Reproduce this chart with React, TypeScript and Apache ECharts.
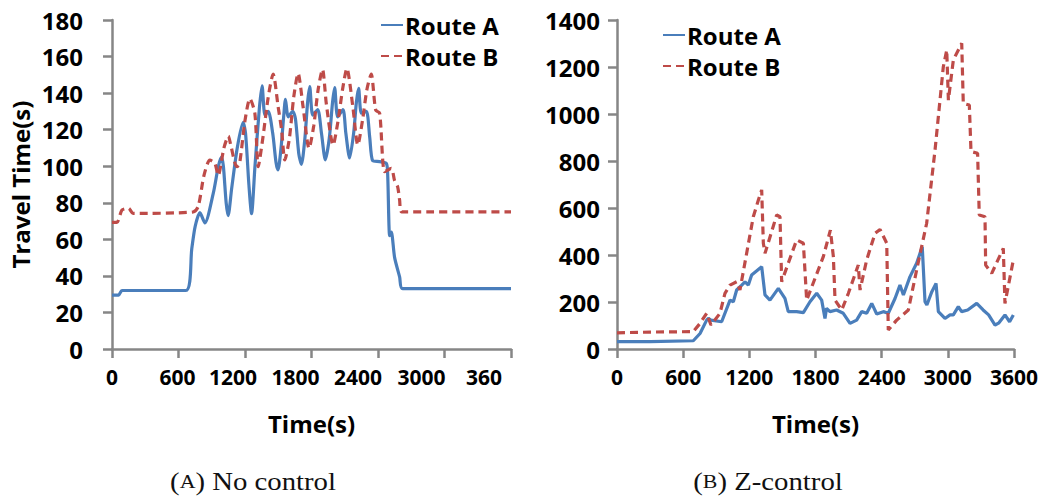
import React, { useEffect, useRef } from "react";
import * as echarts from "echarts";

// Time ticks shared by both panels (seconds)
const timeTicks = [0, 600, 1200, 1800, 2400, 3000, 3600];

// Panel (A) No control: [time (s), travel time (s)]
const noControlRouteA: number[][] = [
  [0, 29.5], [60, 29.5], [90, 32], [667, 32], [720, 55], [750, 67], [793, 74.6], [838, 69],
  [913, 85], [960, 100], [988, 105], [1005, 100], [1030, 80], [1048, 73], [1080, 88],
  [1130, 110], [1183, 124], [1205, 118], [1235, 90], [1259, 74], [1290, 100], [1330, 132],
  [1354, 144], [1380, 128], [1410, 130], [1450, 118], [1480, 102], [1498, 98], [1525, 110],
  [1550, 128], [1565, 136.6], [1590, 127], [1630, 130], [1655, 126], [1685, 107], [1709, 101],
  [1740, 115], [1765, 135], [1784, 143.5], [1811, 128], [1856, 131], [1890, 118], [1925, 103.5],
  [1960, 115], [1990, 135], [2009, 143], [2036, 127], [2084, 131], [2110, 118], [2144, 104.5],
  [2180, 118], [2205, 135], [2225, 142.6], [2250, 129], [2295, 130], [2325, 116], [2352, 103],
  [2415, 102.5], [2475, 101.5], [2487, 96], [2505, 62], [2520, 64], [2550, 50], [2595, 39.5],
  [2622, 33], [3600, 33],
];
const noControlRouteB: number[][] = [
  [0, 69.3], [45, 69.3], [90, 76], [150, 77], [190, 74.2], [733, 75], [778, 78], [830, 95],
  [883, 103.4], [928, 101.6], [958, 95], [1010, 110], [1050, 116.5], [1070, 112], [1126, 99.7],
  [1150, 101], [1200, 125], [1244, 137], [1289, 129], [1319, 99.7], [1360, 115], [1410, 138],
  [1454, 150.4], [1499, 132.5], [1530, 120], [1559, 103.4], [1600, 115], [1640, 138],
  [1679, 150.8], [1724, 132.5], [1778, 109.8], [1820, 122], [1860, 142], [1899, 153],
  [1935, 133.5], [1995, 111.6], [2040, 125], [2080, 142], [2119, 153.5], [2173, 132.5],
  [2218, 111.6], [2260, 125], [2300, 142], [2339, 150.4], [2379, 130.7], [2415, 129],
  [2460, 97], [2520, 98.8], [2550, 92], [2577, 88.8], [2595, 81.5], [2613, 75], [3600, 75],
];

// Panel (B) Z-control: [time (s), travel time (s)]
const zControlRouteA: number[][] = [
  [0, 31], [300, 31], [692, 35], [753, 66], [813, 123], [828, 130], [852, 123], [949, 116],
  [1025, 208], [1055, 201], [1085, 251], [1131, 272], [1161, 286], [1191, 272], [1221, 315],
  [1312, 350], [1342, 230], [1387, 208], [1463, 258], [1523, 215], [1553, 159], [1629, 159],
  [1690, 155], [1750, 201], [1811, 237], [1856, 208], [1886, 130], [1900, 173], [1931, 159],
  [1991, 166], [2052, 152], [2113, 109], [2173, 123], [2219, 159], [2264, 152], [2310, 194],
  [2355, 149], [2415, 159], [2460, 152], [2521, 215], [2566, 272], [2597, 230], [2657, 308],
  [2717, 365], [2768, 435], [2793, 201], [2810, 187], [2855, 244], [2893, 279], [2914, 159],
  [2974, 130], [3020, 145], [3050, 145], [3095, 180], [3125, 159], [3180, 166], [3262, 194],
  [3320, 166], [3370, 145], [3428, 102], [3460, 110], [3518, 145], [3560, 116], [3594, 145],
];
const zControlRouteB: number[][] = [
  [0, 69], [300, 72], [692, 74], [753, 109], [813, 152], [852, 102], [934, 152], [979, 237],
  [1025, 272], [1085, 286], [1115, 251], [1236, 563], [1282, 634], [1312, 677], [1327, 450],
  [1342, 407], [1402, 499], [1448, 570], [1478, 563], [1493, 286], [1553, 365], [1629, 464],
  [1690, 450], [1720, 208], [1871, 393], [1935, 506], [1962, 393], [1977, 208], [2038, 166],
  [2098, 237], [2188, 357], [2204, 251], [2264, 379], [2340, 492], [2385, 509], [2446, 450],
  [2460, 81], [2536, 123], [2642, 166], [2717, 336], [2808, 535], [2884, 847], [2959, 1201],
  [2990, 1272], [3005, 1059], [3050, 1230], [3126, 1301], [3140, 1045], [3195, 1038],
  [3210, 840], [3270, 833], [3285, 570], [3337, 563], [3343, 357], [3398, 322], [3503, 428],
  [3518, 194], [3594, 379],
];

const seriesNames = ["Route A", "Route B"];
const captions = ["(A) No control", "(B) Z-control"];

const BLUE = "#4a7ebb";
const RED = "#be4b48";
const AXIS = "#868686";
const FONT = "Open Sans";

// horizontal shift (px) of each time label relative to its tick
const leftLabelShift = [0, -1, -12, -16, -20, -23, -21];
const rightLabelShift = [0, 0, 0, 0, 0, 0, 0];

function timeAxis(gridIndex: number, shifts: number[]) {
  const rich: Record<string, any> = {};
  shifts.forEach((s, i) => {
    rich["s" + i] = {
      fontFamily: FONT,
      fontWeight: "bold",
      fontSize: 21,
      color: "#000",
      padding: [0, Math.max(0, -2 * s), 0, Math.max(0, 2 * s)],
    };
  });
  return {
    type: "value",
    gridIndex,
    min: 0,
    max: 3600,
    interval: 600,
    name: "Time(s)",
    nameLocation: "middle",
    nameGap: 62,
    nameTextStyle: { fontFamily: FONT, fontWeight: "bold", fontSize: 24, color: "#000" },
    axisLine: { show: true, lineStyle: { color: AXIS, width: 2.5 } },
    axisTick: { show: true, length: 9, lineStyle: { color: AXIS, width: 2.5 } },
    splitLine: { show: false },
    axisLabel: {
      margin: 17,
      showMaxLabel: true,
      showMinLabel: true,
      formatter: (v: number) => {
        const i = timeTicks.indexOf(v);
        return "{s" + i + "|" + v + "}";
      },
      rich,
    },
  };
}

function valueAxis(gridIndex: number, max: number, interval: number, margin: number, name?: string) {
  return {
    type: "value",
    gridIndex,
    min: 0,
    max,
    interval,
    name: name || "",
    nameLocation: "middle",
    nameGap: 80,
    nameTextStyle: { fontFamily: FONT, fontWeight: "bold", fontSize: 24, color: "#000" },
    axisLine: { show: true, lineStyle: { color: AXIS, width: 2.5 } },
    axisTick: { show: true, length: 9, lineStyle: { color: AXIS, width: 2.5 } },
    splitLine: { show: false },
    axisLabel: {
      margin,
      fontFamily: FONT,
      fontWeight: "bold",
      fontSize: 24,
      color: "#000",
      formatter: (v: number) => String(v),
    },
  };
}

function lineSeries(name: string, data: number[][], idx: number, dashed: boolean, smooth: number) {
  return {
    type: "line",
    name,
    data,
    xAxisIndex: idx,
    yAxisIndex: idx,
    symbol: "none",
    showSymbol: false,
    smooth,
    lineStyle: {
      color: dashed ? RED : BLUE,
      width: 3.2,
      type: dashed ? [8, 5] : "solid",
    },
    itemStyle: { color: dashed ? RED : BLUE },
  };
}

function legend(left: number, top: number) {
  return {
    orient: "vertical",
    left,
    top,
    padding: 0,
    itemWidth: 22,
    itemHeight: 12,
    itemGap: 7,
    data: seriesNames,
    // only the line sample is shown next to each name
    itemStyle: { color: "rgba(0,0,0,0)", borderWidth: 0, opacity: 0 },
    textStyle: {
      fontFamily: FONT,
      fontWeight: "bold",
      fontSize: 24,
      lineHeight: 24,
      color: "#000",
      padding: [0, 0, 0, -3],
    },
  };
}

function caption(text: string, x: number) {
  const m = text.match(/^\((.)\)(.*)$/);
  const letter = m ? m[1] : "";
  const rest = m ? m[2] : text;
  return {
    type: "text",
    x,
    y: 482,
    z: 100,
    scaleX: 1.15,
    style: {
      text: "{p|(}{s|" + letter + "}{p|)" + rest + "}",
      align: "center",
      verticalAlign: "middle",
      rich: {
        p: { fontFamily: "Liberation Serif", fontSize: 25, fill: "#111" },
        s: { fontFamily: "Liberation Serif", fontSize: 19, fill: "#111" },
      },
    },
  };
}

export default function App() {
  const ref = useRef<HTMLDivElement>(null);

  useEffect(() => {
    if (!ref.current) return;
    const chart = echarts.init(ref.current, undefined, { renderer: "svg" });
    chart.setOption({
      animation: false,
      backgroundColor: "#fff",
      grid: [
        { left: 112, top: 20, width: 399, height: 329 },
        { left: 617, top: 20, width: 397, height: 329 },
      ],
      xAxis: [timeAxis(0, leftLabelShift), timeAxis(1, rightLabelShift)],
      yAxis: [
        valueAxis(0, 180, 20, 29, "Travel Time(s)"),
        valueAxis(1, 1400, 200, 17),
      ],
      legend: [legend(380, 13), legend(662, 23)],
      series: [
        lineSeries(seriesNames[0], noControlRouteA, 0, false, 0.25),
        lineSeries(seriesNames[1], noControlRouteB, 0, true, 0.25),
        lineSeries(seriesNames[0], zControlRouteA, 1, false, 0),
        lineSeries(seriesNames[1], zControlRouteB, 1, true, 0),
      ],
      graphic: [
        // the last time label of panel (A) runs past the panel edge and is cut off
        { type: "rect", z: 100, shape: { x: 502, y: 362, width: 50, height: 32 }, style: { fill: "#fff" } },
        caption(captions[0], 253),
        caption(captions[1], 768),
      ],
    });
    return () => chart.dispose();
  }, []);

  return (
    <div
      ref={ref}
      style={{ position: "absolute", left: 0, top: 0, width: 1050, height: 499 }}
    />
  );
}
